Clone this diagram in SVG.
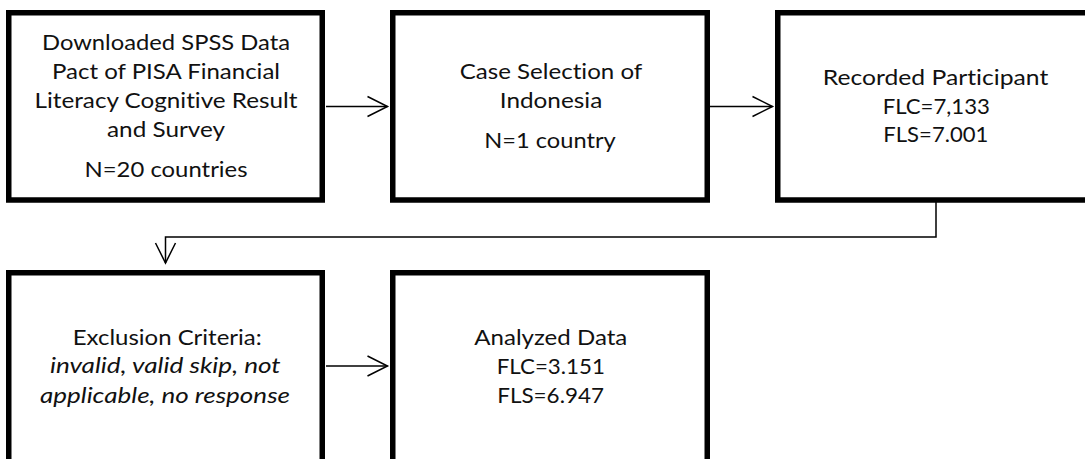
<svg xmlns="http://www.w3.org/2000/svg" width="1085" height="459" viewBox="0 0 1085 459">
<style>
.box{fill:#fff;stroke:#000;stroke-width:5.5}
.t{font-family:Lato,"Liberation Sans",sans-serif;font-size:22px;fill:#111;text-anchor:middle;font-variant-ligatures:none;font-feature-settings:"liga" 0,"clig" 0}
.i{font-style:italic}
.c{fill:none;stroke:#000;stroke-width:1.5}
</style>
<defs>
<marker id="ah" markerUnits="userSpaceOnUse" markerWidth="24" markerHeight="24" viewBox="-2 -2 24 24" refX="20" refY="10" orient="auto">
<path d="M0,0 L20,10 L0,20" fill="none" stroke="#000" stroke-width="1.5"/>
</marker>
</defs>
<rect width="1085" height="459" fill="#fff"/>
<g id="connectors">
<line class="c" x1="326" y1="106.5" x2="387.5" y2="106.5" marker-end="url(#ah)"/>
<line class="c" x1="710" y1="106.5" x2="772.5" y2="106.5" marker-end="url(#ah)"/>
<polyline class="c" points="936,202 936,237 165.5,237 165.5,263" marker-end="url(#ah)"/>
<line class="c" x1="326" y1="366" x2="387.5" y2="366" marker-end="url(#ah)"/>
</g>
<g id="node1">
<rect class="box" x="8.75" y="12.75" width="313.5" height="187.25"/>
<text class="t" x="166" y="50" textLength="248" lengthAdjust="spacingAndGlyphs">Downloaded SPSS Data</text>
<text class="t" x="166" y="79" textLength="228" lengthAdjust="spacingAndGlyphs">Pact of PISA Financial</text>
<text class="t" x="166" y="107.7" textLength="263" lengthAdjust="spacingAndGlyphs">Literacy Cognitive Result</text>
<text class="t" x="166" y="136.7" textLength="118" lengthAdjust="spacingAndGlyphs">and Survey</text>
<text class="t" x="166" y="176.7" textLength="163" lengthAdjust="spacingAndGlyphs">N=20 countries</text>
</g>
<g id="node2">
<rect class="box" x="392.75" y="12.75" width="314.5" height="187.25"/>
<text class="t" x="551" y="79" textLength="182.5" lengthAdjust="spacingAndGlyphs">Case Selection of</text>
<text class="t" x="551" y="108" textLength="102.5" lengthAdjust="spacingAndGlyphs">Indonesia</text>
<text class="t" x="550" y="148" textLength="131.5" lengthAdjust="spacingAndGlyphs">N=1 country</text>
</g>
<g id="node3">
<rect class="box" x="777.75" y="12.75" width="314.5" height="187.25"/>
<text class="t" x="935.5" y="85" textLength="225.5" lengthAdjust="spacingAndGlyphs">Recorded Participant</text>
<text class="t" x="936.3" y="114" textLength="107.3" lengthAdjust="spacingAndGlyphs">FLC=7,133</text>
<text class="t" x="935.8" y="142.3" textLength="105" lengthAdjust="spacingAndGlyphs">FLS=7.001</text>
</g>
<g id="node4">
<rect class="box" x="8.75" y="272.75" width="313.5" height="200"/>
<text class="t" x="167.2" y="345" textLength="189" lengthAdjust="spacingAndGlyphs">Exclusion Criteria:</text>
<text class="t i" x="165.3" y="373.3" textLength="230.7" lengthAdjust="spacingAndGlyphs">invalid, valid skip, not</text>
<text class="t i" x="165" y="402.7" textLength="250" lengthAdjust="spacingAndGlyphs">applicable, no response</text>
</g>
<g id="node5">
<rect class="box" x="392.75" y="272.75" width="314.5" height="200"/>
<text class="t" x="550.8" y="345" textLength="153" lengthAdjust="spacingAndGlyphs">Analyzed Data</text>
<text class="t" x="550.8" y="374" textLength="108.3" lengthAdjust="spacingAndGlyphs">FLC=3.151</text>
<text class="t" x="550.6" y="402.7" textLength="106.7" lengthAdjust="spacingAndGlyphs">FLS=6.947</text>
</g>
</svg>
